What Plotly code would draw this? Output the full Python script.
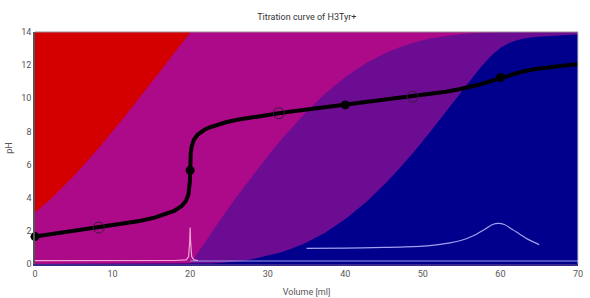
import plotly.graph_objects as go

# Titration data (volume of NaOH in ml, pH) and species fractions
volume = [0.0, 2.18, 5.22, 8.22, 11.03, 13.47, 15.42, 16.90, 17.94, 18.92, 19.45, 19.78,
          19.91, 19.97, 19.985, 20.0, 20.013, 20.03, 20.08, 20.20, 20.49, 20.96, 21.34, 21.85,
          22.54, 23.45, 24.62, 26.08, 27.85, 29.92, 31.43, 33.05, 34.73, 37.35, 40.02, 42.70,
          45.33, 47.03, 48.67, 50.93, 52.96, 54.71, 56.19, 57.43, 58.50, 59.27, 60.08, 60.87,
          61.82, 62.87, 64.30, 66.56, 68.61, 70.0]
ph = [1.654, 1.8, 2.0, 2.2, 2.4, 2.6, 2.8, 3.0, 3.2, 3.5, 3.8, 4.2,
      4.6, 5.0, 5.3, 5.65, 6.0, 6.3, 6.7, 7.1, 7.5, 7.8, 7.95, 8.1,
      8.25, 8.4, 8.55, 8.7, 8.85, 9.0, 9.1, 9.2, 9.3, 9.45, 9.6, 9.75,
      9.9, 10.0, 10.1, 10.25, 10.4, 10.55, 10.7, 10.85, 11.0, 11.12, 11.25, 11.37,
      11.5, 11.62, 11.75, 11.9, 12.0, 12.055]
frac_h3a = [0.778, 0.7153, 0.6131, 0.5, 0.3869, 0.2847, 0.2008, 0.1368, 0.0909, 0.0477, 0.0245, 0.0099,
            0.0040, 0.0016, 0.0008, 0.0004, 0.0002, 0.0001, 0, 0, 0, 0, 0, 0,
            0, 0, 0, 0, 0, 0, 0, 0, 0, 0, 0, 0,
            0, 0, 0, 0, 0, 0, 0, 0, 0, 0, 0, 0,
            0, 0, 0, 0, 0, 0]
frac_h2a = [0.222, 0.2847, 0.3869, 0.5, 0.6131, 0.7153, 0.7992, 0.8632, 0.9091, 0.9523, 0.9755, 0.9901,
            0.9960, 0.9983, 0.9990, 0.9992, 0.9990, 0.9983, 0.9960, 0.9901, 0.9754, 0.9521, 0.9335, 0.9083,
            0.8747, 0.8309, 0.7754, 0.7072, 0.6274, 0.5384, 0.4762, 0.4137, 0.3526, 0.2674, 0.1937, 0.1340,
            0.0886, 0.0656, 0.0476, 0.0285, 0.0165, 0.0092, 0.0050, 0.0027, 0.0014, 0.0008, 0.0005, 0.0003,
            0.0002, 0.0001, 0.0, 0, 0, 0]
frac_ha = [0, 0, 0, 0, 0, 0, 0, 0, 0, 0, 0, 0,
           0, 0.0001, 0.0002, 0.0004, 0.0008, 0.0016, 0.0040, 0.0099, 0.0245, 0.0477, 0.0661, 0.0908,
           0.1236, 0.1658, 0.2185, 0.2816, 0.3528, 0.4276, 0.4762, 0.5208, 0.5588, 0.5986, 0.6126, 0.5986,
           0.5588, 0.5208, 0.4762, 0.4027, 0.3283, 0.2595, 0.1997, 0.1506, 0.1117, 0.0871, 0.0661, 0.0510,
           0.0383, 0.0293, 0.0219, 0.0156, 0.0124, 0.0110]
frac_a = [0, 0, 0, 0, 0, 0, 0, 0, 0, 0, 0, 0,
          0, 0, 0, 0, 0, 0, 0, 0, 0.0001, 0.0002, 0.0005, 0.0009,
          0.0017, 0.0033, 0.0062, 0.0112, 0.0198, 0.0340, 0.0476, 0.0656, 0.0886, 0.1340, 0.1937, 0.2674,
          0.3526, 0.4137, 0.4762, 0.5688, 0.6552, 0.7313, 0.7952, 0.8467, 0.8870, 0.9121, 0.9334, 0.9488,
          0.9616, 0.9706, 0.9781, 0.9844, 0.9876, 0.9890]

# equivalence points and pKa (half-equivalence) points
eq_volume = [0, 20, 40, 60]
eq_ph = [1.654, 5.65, 9.6, 11.25]
pka_volume = [8.22, 31.43, 48.67]
pka_ph = [2.2, 9.1, 10.1]

# derivative-like traces (light lines)
d1_volume = [0, 10, 18, 19.5, 19.8, 19.95, 20.0, 20.05, 20.2, 20.5, 21]
d1_value = [0.2, 0.2, 0.21, 0.25, 0.45, 1.4, 2.2, 1.4, 0.45, 0.25, 0.21]
d2_volume = [20, 30, 40, 50, 60, 70]
d2_value = [0.18, 0.18, 0.18, 0.18, 0.18, 0.18]
d3_volume = [35, 40, 45, 50, 52, 53.5, 55, 56.5, 58, 59, 59.7, 60.5, 61.5, 62.5, 63.5, 65]
d3_value = [0.94, 0.96, 1.0, 1.08, 1.17, 1.27, 1.43, 1.7, 2.1, 2.38, 2.45, 2.38, 2.1, 1.8, 1.5, 1.17]

SCALE = 14
species = [("H3A", frac_h3a, "#d40000"), ("H2A", frac_h2a, "#ac0a88"),
           ("HA", frac_ha, "#6c0c92"), ("A", frac_a, "#00008c")]

fig = go.Figure()
# cumulative (from the bottom: A, HA, H2A, H3A) drawn top-down, each filled to zero
for i, (name, _, col) in enumerate(species):
    upper = [sum(species[j][1][k] for j in range(i, len(species))) * SCALE
             for k in range(len(volume))]
    fig.add_trace(go.Scatter(
        x=volume, y=upper, mode="lines", fill="tozeroy",
        line=dict(width=0, color=col), fillcolor=col,
        hoverinfo="skip", showlegend=False))

fig.add_trace(go.Scatter(x=d2_volume, y=d2_value, mode="lines",
                         line=dict(color="#9c9ce6", width=1.2), showlegend=False))
fig.add_trace(go.Scatter(x=d1_volume, y=d1_value, mode="lines",
                         line=dict(color="#f2a6d8", width=1.2), showlegend=False))
fig.add_trace(go.Scatter(x=d3_volume, y=d3_value, mode="lines", line_shape="spline",
                         line=dict(color="#a0a0ee", width=1.2), showlegend=False))

fig.add_trace(go.Scatter(x=volume, y=ph, mode="lines", cliponaxis=False,
                         line=dict(color="black", width=4), showlegend=False))
fig.add_trace(go.Scatter(x=eq_volume, y=eq_ph, mode="markers", cliponaxis=False,
                         marker=dict(color="black", size=9), showlegend=False))
fig.add_trace(go.Scatter(x=pka_volume, y=pka_ph, mode="markers",
                         marker=dict(color="rgba(0,0,0,0)", size=11,
                                     line=dict(color="#3a1a3a", width=1)),
                         showlegend=False))

# frame top/right
fig.add_shape(type="line", xref="x domain", yref="y domain", x0=0, x1=1, y0=1, y1=1,
              line=dict(color="#9a8a96", width=1))
fig.add_shape(type="line", xref="x domain", yref="y domain", x0=1, x1=1, y0=0, y1=1,
              line=dict(color="#c8c8d8", width=1))

fig.update_layout(
    width=590, height=298,
    margin=dict(l=35, r=12, t=32, b=34),
    paper_bgcolor="white", plot_bgcolor="white",
    font=dict(family="Roboto", size=9, color="#555"),
    title=dict(text="Titration curve of H3Tyr+", x=0.52, xanchor="center",
               y=0.945, yanchor="middle", font=dict(size=9, color="#333")),
    xaxis=dict(range=[0, 70], dtick=10, showgrid=False, zeroline=False, automargin=False,
               showline=True, linecolor="#3a2a8a", linewidth=2, ticks="",
               title=dict(text="Volume [ml]", standoff=11, font=dict(size=9, color="#555"))),
    yaxis=dict(range=[0, 14], dtick=2, showgrid=False, zeroline=False, automargin=False,
               showline=True, linecolor="#555", linewidth=1.5, ticks="",
               title=dict(text="pH", standoff=7, font=dict(size=9, color="#555"))),
)

fig.write_html("out.html")
